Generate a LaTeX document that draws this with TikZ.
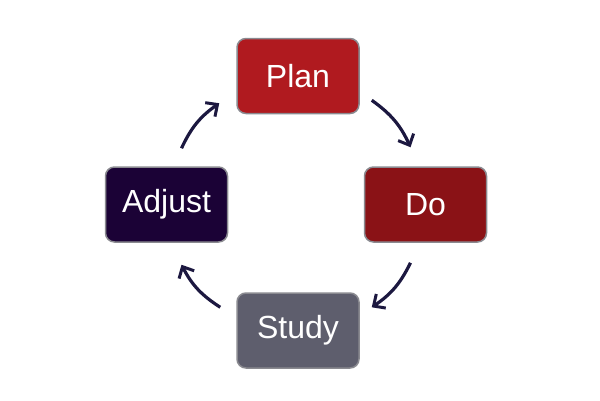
\documentclass[tikz,border=0pt]{standalone}
\usepackage{fontspec}
\setmainfont{Liberation Sans}
\usepackage{xcolor}
\usetikzlibrary{arrows.meta,positioning}
\definecolor{planred}{HTML}{B01A1F}
\definecolor{dored}{HTML}{8A1216}
\definecolor{adjnavy}{HTML}{1B0236}
\definecolor{studygray}{HTML}{5E5E6D}
\definecolor{rim}{HTML}{8A8A90}
\definecolor{ink}{HTML}{1C1840}
\tikzset{
  stage/.style={draw=rim,line width=1.5pt,rounded corners=9pt,align=center,minimum width=122pt,minimum height=75pt,text=white,font=\fontsize{32}{35}\selectfont},
  cycle/.style={-{Straight Barb[length=9pt,width=17pt,line width=3pt]},line width=3.2pt,draw=ink,bend left=15}
}
\begin{document}
\begin{tikzpicture}[x=1pt,y=1pt,node distance=52pt and 4pt]
  \useasboundingbox (0,0) rectangle (600,-400);

  \node[stage,fill=planred] (plan) at (298,-76) {Plan};
  \node[stage,fill=dored,below right=52pt and 4pt of plan.south east,anchor=north west] (do) {Do};
  \node[stage,fill=adjnavy,below left=52pt and 8pt of plan.south west,anchor=north east] (adjust) {Adjust};
  \node[stage,fill=studygray,below=178pt of plan] (study) {Study};

  \draw[cycle] ([shift={(12,14)}]plan.south east) to ([shift={(-15,19)}]do.north);
  \draw[cycle] ([shift={(-15,-20)}]do.south) to ([shift={(12,-15)}]study.north east);
  \draw[cycle] ([shift={(-16,-15)}]study.north west) to ([shift={(15,-22)}]adjust.south);
  \draw[cycle] ([shift={(15,18)}]adjust.north) to ([shift={(-17,11)}]plan.south west);
\end{tikzpicture}
\end{document}
